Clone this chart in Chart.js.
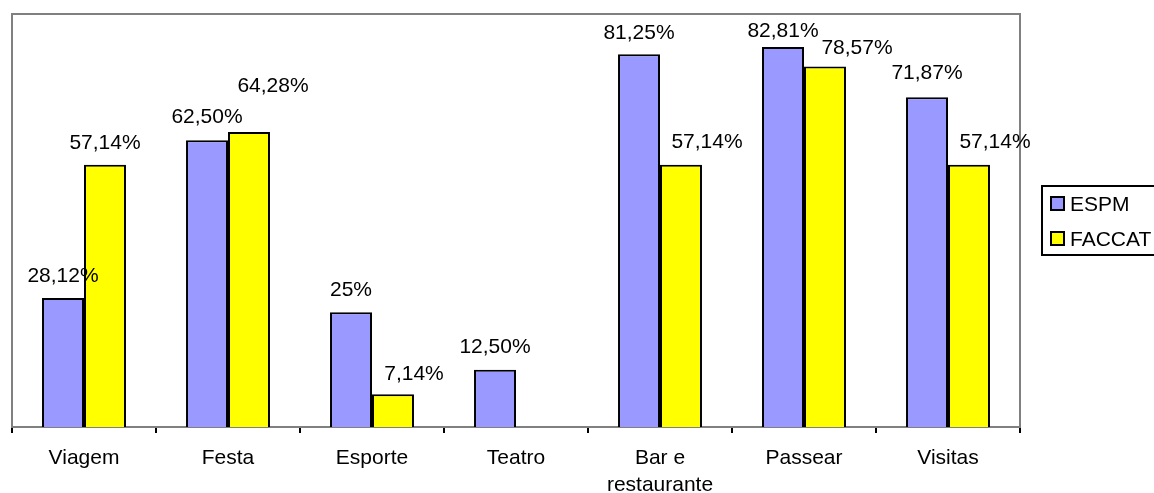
<!DOCTYPE html>
<html>
<head>
<meta charset="utf-8">
<title>Lazer ESPM x FACCAT</title>
<script src="https://cdn.jsdelivr.net/npm/chart.js@4/dist/chart.umd.min.js"></script>
<style>
  html, body { margin: 0; padding: 0; background: #fff; }
  canvas { display: block; }
</style>
</head>
<body>
<canvas id="lazerChart" width="1154" height="493"></canvas>
<script>
/* ── Data ── */
const categories = ['Viagem', 'Festa', 'Esporte', 'Teatro', ['Bar e', 'restaurante'], 'Passear', 'Visitas'];
const espmValues   = [28.12, 62.50, 25, 12.50, 81.25, 82.81, 71.87];
const faccatValues = [57.14, 64.28, 7.14, 0, 57.14, 78.57, 57.14];
const seriesNames  = ['ESPM', 'FACCAT'];
const axisMax = 90;

// hand-placed label offsets [dx, rise above bar top], per series
const labelNudge = [
  [[0, 23], [0, 24], [0, 23.5], [0, 23.5], [0, 22], [0, 17], [0, 25]],
  [[0, 23], [24, 47], [21, 21.5], [0, 23], [26, 24], [32, 19], [26, 23.5]],
];

const FONT = '"Liberation Sans", Arial, sans-serif';
const FONT_SIZE = 21;

function fmtPct(v) {
  if (Number.isInteger(v)) return v + '%';
  return v.toFixed(2).replace('.', ',') + '%';
}

/* ── Plot frame (gray box behind the bars) ── */
const plotFrame = {
  id: 'plotFrame',
  beforeDatasetsDraw(chart) {
    const { ctx, chartArea: a } = chart;
    ctx.save();
    ctx.strokeStyle = '#808080';
    ctx.lineWidth = 2;
    ctx.strokeRect(a.left, a.top, a.right - a.left, a.bottom - a.top);
    ctx.restore();
  },
};

/* ── Value labels above bars ── */
const valueLabels = {
  id: 'valueLabels',
  afterDatasetsDraw(chart) {
    const { ctx } = chart;
    ctx.save();
    ctx.font = FONT_SIZE + 'px ' + FONT;
    ctx.fillStyle = '#000';
    ctx.textAlign = 'center';
    ctx.textBaseline = 'middle';
    chart.data.datasets.forEach((ds, i) => {
      chart.getDatasetMeta(i).data.forEach((bar, j) => {
        const v = ds.data[j];
        if (!v) return;
        const [dx, rise] = labelNudge[i][j];
        ctx.fillText(fmtPct(v), bar.x + dx, bar.y - rise + 1);
      });
    });
    ctx.restore();
  },
};

/* ── Boxed legend on the right ── */
const boxLegend = {
  id: 'boxLegend',
  afterDraw(chart) {
    const { ctx } = chart;
    const x = 1042, y = 186, w = 120, h = 69;
    ctx.save();
    ctx.fillStyle = '#fff';
    ctx.fillRect(x, y, w, h);
    ctx.strokeStyle = '#000';
    ctx.lineWidth = 2;
    ctx.strokeRect(x, y, w, h);
    ctx.font = FONT_SIZE + 'px ' + FONT;
    ctx.textBaseline = 'middle';
    chart.data.datasets.forEach((ds, i) => {
      const cy = y + 18 + i * 35;
      ctx.fillStyle = ds.backgroundColor;
      ctx.fillRect(x + 9, cy - 7, 13, 13);
      ctx.strokeRect(x + 9, cy - 7, 13, 13);
      ctx.fillStyle = '#000';
      ctx.fillText(ds.label, x + 28, cy + 1);
    });
    ctx.restore();
  },
};

new Chart(document.getElementById('lazerChart'), {
  type: 'bar',
  data: {
    labels: categories,
    datasets: [
      { label: seriesNames[0], data: espmValues,   backgroundColor: '#9999FF' },
      { label: seriesNames[1], data: faccatValues, backgroundColor: '#FFFF00' },
    ],
  },
  options: {
    responsive: false,
    animation: false,
    layout: { padding: { left: 12, top: 14, right: 134, bottom: 0 } },
    datasets: {
      bar: {
        borderColor: '#000',
        borderWidth: 2,
        categoryPercentage: 0.583,
        barPercentage: 1,
      },
    },
    plugins: {
      legend: { display: false },
      tooltip: { enabled: false },
    },
    scales: {
      x: {
        afterFit(scale) { scale.height = 66; },
        border: { color: '#000', width: 2 },
        grid: {
          offset: true,
          drawOnChartArea: false,
          drawTicks: true,
          tickLength: 6,
          color: '#000',
          lineWidth: 2,
        },
        ticks: {
          color: '#000',
          padding: 11.5,
          maxRotation: 0,
          autoSkip: false,
          font: { family: FONT, size: FONT_SIZE, lineHeight: 27 / FONT_SIZE },
        },
      },
      y: {
        display: false,
        min: 0,
        max: axisMax,
      },
    },
  },
  plugins: [plotFrame, valueLabels, boxLegend],
});
</script>
</body>
</html>
